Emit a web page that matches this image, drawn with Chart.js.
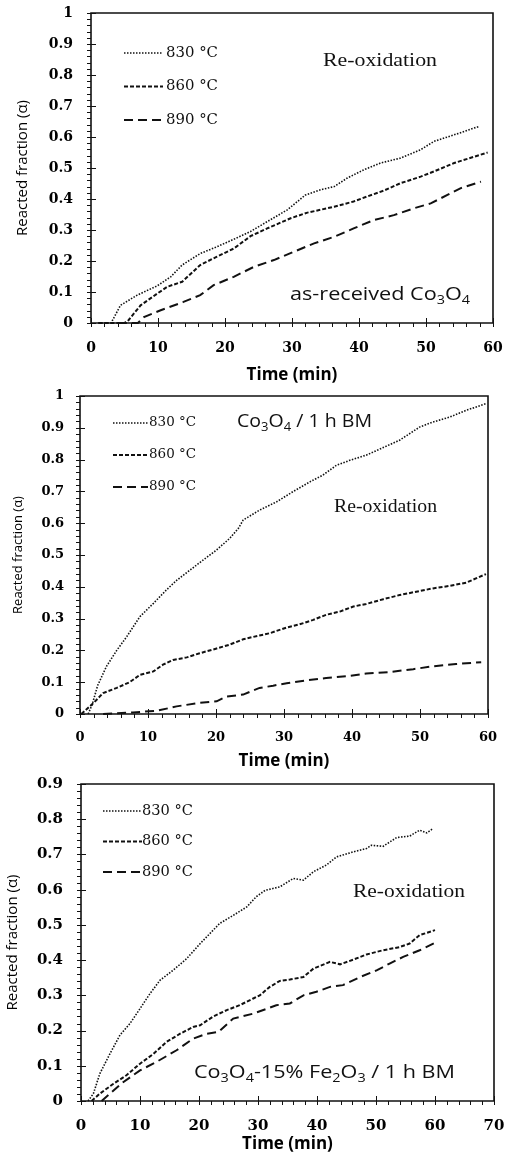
<!DOCTYPE html>
<html>
<head>
<meta charset="utf-8">
<script src="https://cdn.jsdelivr.net/npm/chart.js@4.4.1/dist/chart.umd.min.js"></script>
<style>
  body { margin: 0; background: #fff; width: 512px; height: 1155px; position: relative; overflow: hidden; }
  canvas { position: absolute; left: 0; }
</style>
</head>
<body>
<canvas id="c1" width="512" height="385" style="top:0px"></canvas>
<canvas id="c2" width="512" height="385" style="top:385px"></canvas>
<canvas id="c3" width="512" height="385" style="top:770px"></canvas>
<script>
// series labels
const temps = ['830 °C', '860 °C', '890 °C'];

// panel 1: as-received Co3O4 (time in min, reacted fraction)
const t1_830 = [1.1, 3.0, 4.4, 6.9, 9.9, 11.9, 13.6, 16.3, 18.8, 21.3, 23.8, 26.3, 29.3, 32.0, 34.3, 36.3, 38.2, 40.7, 43.2, 46.2, 49.2, 51.2, 54.2, 57.9];
const a1_830 = [0, 0, 0.057, 0.09, 0.12, 0.149, 0.187, 0.224, 0.246, 0.27, 0.295, 0.327, 0.365, 0.413, 0.43, 0.44, 0.467, 0.494, 0.516, 0.532, 0.559, 0.586, 0.607, 0.634];
const t1_860 = [1.1, 5.0, 5.6, 7.4, 9.9, 11.4, 13.6, 16.3, 18.8, 21.3, 23.8, 26.3, 29.8, 32.3, 36.3, 39.2, 41.2, 43.7, 46.2, 49.2, 51.2, 54.2, 59.2];
const a1_860 = [0, 0, 0.009, 0.057, 0.095, 0.117, 0.133, 0.187, 0.214, 0.24, 0.28, 0.305, 0.338, 0.356, 0.375, 0.392, 0.408, 0.427, 0.451, 0.472, 0.489, 0.516, 0.55];
const t1_890 = [4.0, 7.0, 7.9, 10.4, 13.8, 16.3, 18.3, 21.3, 24.3, 27.3, 30.3, 33.3, 36.3, 39.2, 42.2, 45.2, 48.2, 50.7, 53.2, 55.2, 58.2];
const a1_890 = [0, 0, 0.019, 0.041, 0.068, 0.09, 0.122, 0.149, 0.181, 0.203, 0.23, 0.257, 0.278, 0.305, 0.332, 0.348, 0.37, 0.386, 0.413, 0.435, 0.456];

// panel 2: Co3O4 / 1 h BM
const t2_830 = [1.2, 1.8, 2.6, 3.9, 5.4, 6.9, 8.8, 10.8, 12.7, 14.2, 16.2, 18.1, 20.1, 22.0, 23.3, 24.0, 26.4, 28.9, 31.3, 33.8, 35.7, 37.7, 39.7, 42.1, 44.6, 47.0, 50.0, 51.9, 54.4, 56.8, 59.7];
const a2_830 = [0, 0.03, 0.09, 0.15, 0.2, 0.244, 0.306, 0.348, 0.39, 0.42, 0.453, 0.484, 0.516, 0.552, 0.584, 0.61, 0.641, 0.667, 0.699, 0.73, 0.751, 0.782, 0.798, 0.814, 0.838, 0.861, 0.903, 0.918, 0.934, 0.955, 0.976];
const t2_860 = [0.2, 2.0, 3.4, 5.4, 7.3, 8.8, 10.8, 12.2, 13.7, 15.7, 17.6, 20.1, 22.0, 24.0, 26.4, 27.9, 30.4, 32.3, 34.3, 36.2, 38.2, 40.2, 42.1, 44.6, 47.0, 50.0, 51.9, 54.4, 56.8, 59.7];
const a2_860 = [0, 0.035, 0.066, 0.082, 0.1, 0.123, 0.134, 0.155, 0.17, 0.178, 0.191, 0.206, 0.218, 0.235, 0.247, 0.254, 0.272, 0.282, 0.296, 0.312, 0.322, 0.338, 0.346, 0.361, 0.374, 0.387, 0.395, 0.403, 0.413, 0.44];
const t2_890 = [3.4, 7.8, 11.3, 14.2, 17.6, 20.1, 21.5, 24.0, 26.4, 28.4, 30.4, 33.3, 36.2, 39.7, 42.1, 45.5, 49.0, 51.9, 55.3, 59.0];
const a2_890 = [0, 0.005, 0.01, 0.024, 0.035, 0.04, 0.055, 0.061, 0.082, 0.089, 0.097, 0.106, 0.113, 0.12, 0.127, 0.132, 0.141, 0.15, 0.157, 0.163];

// panel 3: Co3O4-15% Fe2O3 / 1 h BM
const t3_830 = [1.2, 2.1, 3.2, 4.9, 6.6, 8.3, 10.0, 11.7, 13.4, 15.6, 17.9, 20.2, 22.4, 23.5, 25.8, 28.1, 29.7, 31.2, 33.7, 36.0, 37.7, 39.4, 41.6, 43.3, 46.1, 48.4, 49.2, 51.2, 53.5, 55.7, 57.4, 58.6, 59.7];
const a3_830 = [0, 0.021, 0.078, 0.134, 0.187, 0.22, 0.262, 0.305, 0.343, 0.371, 0.404, 0.447, 0.485, 0.504, 0.527, 0.551, 0.58, 0.598, 0.608, 0.632, 0.627, 0.651, 0.67, 0.693, 0.707, 0.717, 0.726, 0.723, 0.748, 0.752, 0.769, 0.761, 0.774];
const t3_860 = [1.8, 3.2, 5.5, 7.7, 10.0, 12.3, 14.5, 16.8, 19.0, 20.2, 22.4, 24.7, 26.9, 29.2, 30.3, 32.0, 33.7, 35.4, 37.7, 39.4, 42.2, 43.9, 46.1, 48.4, 51.2, 54.0, 55.7, 57.4, 60.0];
const a3_860 = [0, 0.021, 0.049, 0.073, 0.106, 0.134, 0.168, 0.191, 0.21, 0.215, 0.24, 0.258, 0.272, 0.291, 0.3, 0.324, 0.341, 0.345, 0.352, 0.376, 0.395, 0.388, 0.401, 0.416, 0.428, 0.437, 0.447, 0.471, 0.485];
const t3_890 = [3.5, 4.9, 7.2, 10.0, 12.8, 16.2, 19.0, 21.3, 23.3, 25.8, 29.2, 31.5, 33.1, 35.4, 37.7, 39.9, 42.2, 44.4, 47.3, 50.1, 52.3, 54.6, 57.4, 60.0];
const a3_890 = [0, 0.021, 0.054, 0.087, 0.111, 0.144, 0.177, 0.191, 0.196, 0.234, 0.248, 0.262, 0.272, 0.277, 0.3, 0.31, 0.324, 0.329, 0.352, 0.371, 0.39, 0.409, 0.428, 0.449];

const lineStyles = [
  { dash: [1.5, 1.5], w: 1.6 },
  { dash: [4, 2], w: 2 },
  { dash: [9, 5], w: 2 }
];

function pts(t, a) {
  return t.map((v, i) => ({ x: v, y: a[i] }));
}

// draws text made of parts ('_' prefix = subscript), stretched to width w
function fitText(ctx, parts, x, y, w, size, font) {
  const seg = parts.map(p => {
    const sub = p[0] === '_';
    const s = sub ? p.slice(1) : p;
    const f = (sub ? Math.round(size * 0.68) : size) + 'px ' + font;
    ctx.font = f;
    return { s, f, sub, width: ctx.measureText(s).width };
  });
  const total = seg.reduce((a, b) => a + b.width, 0);
  ctx.save();
  ctx.translate(x, y);
  ctx.scale(w / total, 1);
  ctx.fillStyle = '#111';
  ctx.textBaseline = 'middle';
  ctx.textAlign = 'left';
  let cx = 0;
  seg.forEach(g => {
    ctx.font = g.f;
    ctx.fillText(g.s, cx, g.sub ? size * 0.3 : 0);
    cx += g.width;
  });
  ctx.restore();
}

const decor = {
  id: 'decor',
  afterDraw(chart, args, o) {
    const ctx = chart.ctx;
    const xs = chart.scales.x, ys = chart.scales.y;
    const L0 = xs.left, R0 = xs.right, T0 = ys.top, B0 = ys.bottom;
    ctx.save();
    ctx.setLineDash([]);
    ctx.strokeStyle = '#111';
    ctx.lineWidth = 1.6;
    ctx.beginPath();
    ctx.rect(L0, T0, R0 - L0, B0 - T0);
    ctx.stroke();
    ctx.lineWidth = 1;
    // minor / major ticks
    for (let i = 0; ys.min + i * 0.02 <= ys.max + 1e-9; i++) {
      const py = Math.round(ys.getPixelForValue(ys.min + i * 0.02)) + 0.5;
      const major = i % 5 === 0;
      ctx.beginPath();
      ctx.moveTo(L0 - 4, py);
      ctx.lineTo(L0 + (major ? 5 : 0), py);
      ctx.stroke();
    }
    for (let i = 0; xs.min + i * 2 <= xs.max + 1e-9; i++) {
      const px = Math.round(xs.getPixelForValue(xs.min + i * 2)) + 0.5;
      const major = i % 5 === 0;
      ctx.beginPath();
      ctx.moveTo(px, B0 + 4);
      ctx.lineTo(px, B0 - (major ? 5 : 0));
      ctx.stroke();
    }
    // legend
    const L = o.legend;
    chart.data.datasets.forEach((ds, i) => {
      const ly = L.y + i * L.gap;
      ctx.setLineDash(ds.borderDash);
      ctx.lineWidth = ds.borderWidth;
      ctx.strokeStyle = ds.borderColor;
      ctx.beginPath();
      ctx.moveTo(L.x1, ly);
      ctx.lineTo(L.x2, ly);
      ctx.stroke();
      ctx.setLineDash([]);
      fitText(ctx, [ds.label], L.tx, ly, L.w, L.size, "'DejaVu Serif'");
    });
    o.notes.forEach(n => fitText(ctx, n.parts, n.x, n.y, n.w, n.size, n.font));
    ctx.restore();
  }
};

function makeChart(id, p) {
  const series = p.series;
  new Chart(document.getElementById(id), {
    type: 'line',
    data: {
      datasets: series.map((s, i) => ({
        label: temps[i],
        data: pts(s[0], s[1]),
        borderColor: '#111',
        borderWidth: lineStyles[i].w,
        borderDash: lineStyles[i].dash,
        pointRadius: 0,
        tension: 0,
        fill: false,
        clip: 3
      }))
    },
    options: {
      responsive: false,
      animation: false,
      devicePixelRatio: 1,
      layout: { padding: { top: p.top, right: p.right, left: 0, bottom: 0 } },
      scales: {
        x: {
          type: 'linear', min: 0, max: p.xmax,
          grid: { display: false, drawTicks: false },
          border: { display: false },
          ticks: {
            stepSize: 10, padding: p.xpad, color: '#000', maxRotation: 0, autoSkip: false,
            font: { family: 'DejaVu Serif', weight: 'bold', size: p.fs, lineHeight: 1 }
          },
          title: {
            display: true, text: 'Time (min)', color: '#000',
            font: { family: 'Open Sans', weight: 'bold', size: 17, lineHeight: 1 },
            padding: { top: 0, bottom: p.xtpb }
          },
          afterFit: s => { s.height = p.xh; s.paddingLeft = 0; s.paddingRight = 0; }
        },
        y: {
          min: 0, max: p.ymax,
          grid: { display: false, drawTicks: false },
          border: { display: false },
          ticks: {
            stepSize: 0.1, padding: p.ypad, color: '#000',
            callback: v => +v.toFixed(1),
            font: { family: 'DejaVu Serif', weight: 'bold', size: p.fs, lineHeight: 1 }
          },
          title: {
            display: true, text: 'Reacted fraction (α)', color: '#000',
            font: { family: 'Open Sans', size: p.yts, lineHeight: 1 },
            padding: { top: p.ytpt, bottom: 0 }
          },
          afterFit: s => { s.width = p.yw; s.paddingTop = 0; s.paddingBottom = 0; }
        }
      },
      plugins: {
        legend: { display: false },
        tooltip: { enabled: false },
        decor: { legend: p.legend, notes: p.notes }
      }
    },
    plugins: [decor]
  });
}

makeChart('c1', {
  series: [[t1_830, a1_830], [t1_860, a1_860], [t1_890, a1_890]],
  xmax: 60, ymax: 1, top: 13, right: 19, yw: 91, xh: 62,
  fs: 14, xpad: 18, ypad: 18, xtpb: 1, yts: 15, ytpt: 15,
  legend: { x1: 124, x2: 163, tx: 166, y: 53, gap: 33.5, w: 52, size: 14 },
  notes: [
    { parts: ['Re-oxidation'], x: 323, y: 61, w: 114, size: 19, font: "'Liberation Serif'" },
    { parts: ['as-received Co', '_3', 'O', '_4'], x: 290, y: 295, w: 180, size: 18, font: "'Open Sans'" }
  ]
});

makeChart('c2', {
  series: [[t2_830, a2_830], [t2_860, a2_860], [t2_890, a2_890]],
  xmax: 60, ymax: 1, top: 11, right: 24, yw: 80, xh: 56,
  fs: 13, xpad: 17, ypad: 16, xtpb: 0, yts: 13, ytpt: 12,
  legend: { x1: 113, x2: 148, tx: 149, y: 38, gap: 32, w: 47, size: 13 },
  notes: [
    { parts: ['Co', '_3', 'O', '_4', ' / 1 h BM'], x: 237, y: 37, w: 135, size: 18, font: "'Open Sans'" },
    { parts: ['Re-oxidation'], x: 334, y: 122, w: 103, size: 18, font: "'Liberation Serif'" }
  ]
});

makeChart('c3', {
  series: [[t3_830, a3_830], [t3_860, a3_860], [t3_890, a3_890]],
  xmax: 70, ymax: 0.9, top: 14, right: 18, yw: 81, xh: 54,
  fs: 15, xpad: 18, ypad: 18, xtpb: 2, yts: 15, ytpt: 5,
  legend: { x1: 103, x2: 142, tx: 142, y: 41, gap: 30.5, w: 51, size: 14 },
  notes: [
    { parts: ['Re-oxidation'], x: 353, y: 122, w: 112, size: 19, font: "'Liberation Serif'" },
    { parts: ['Co', '_3', 'O', '_4', '-15% Fe', '_2', 'O', '_3', ' / 1 h BM'], x: 194, y: 303, w: 261, size: 18, font: "'Open Sans'" }
  ]
});
</script>
</body>
</html>
